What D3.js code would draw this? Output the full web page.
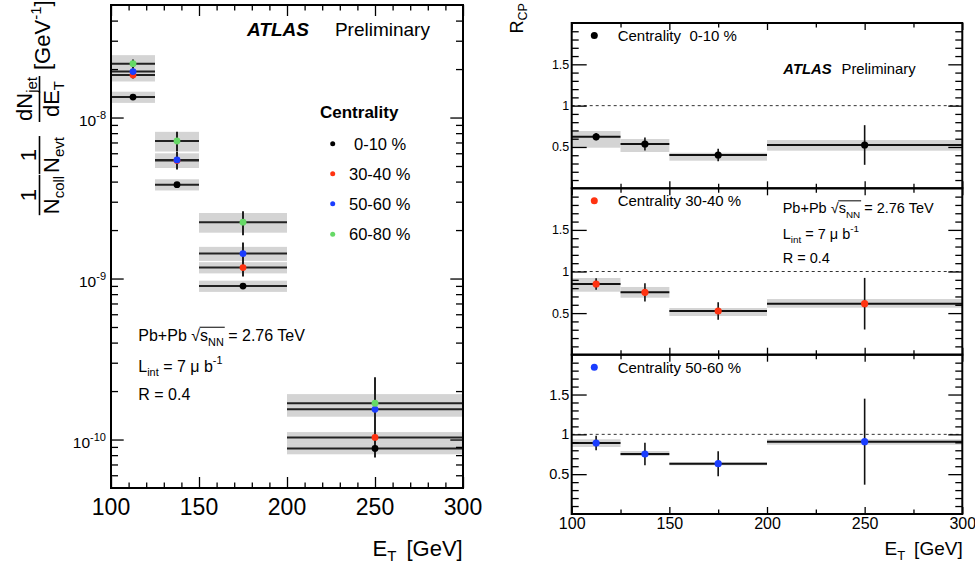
<!DOCTYPE html>
<html>
<head>
<meta charset="utf-8">
<script src="https://cdn.jsdelivr.net/npm/d3@7"></script>
<style>
  body { margin: 0; background: #fff; }
  svg { display: block; font-family: "Liberation Sans", Arial, sans-serif; }
  text { fill: #000; }
</style>
</head>
<body>
<div id="chart"></div>
<script>
//Bins in E_T [GeV]
const binLow = [100, 125, 150, 200];
const binHigh = [125, 150, 200, 300];
const binCenter = [112.5, 137.5, 175, 250];

//Centrality classes
const centralityLabels = ["0-10 %", "30-40 %", "50-60 %", "60-80 %"];
const centralityColors = ["#000000", "#ff3311", "#1a3dff", "#66d966"];

//Left panel: 1/Ncoll 1/Nevt dNjet/dET [GeV^-1]
const yield0010 = [1.34e-8, 3.83e-9, 8.98e-10, 8.8e-11];
const yield3040 = [1.84e-8, 5.40e-9, 1.17e-9, 1.03e-10];
const yield5060 = [1.93e-8, 5.45e-9, 1.43e-9, 1.54e-10];
const yield6080 = [2.16e-8, 7.15e-9, 2.24e-9, 1.68e-10];
//relative statistical errors
const stat0010 = [0.02, 0.03, 0.04, 0.12];
const stat3040 = [0.05, 0.12, 0.12, 0.20];
const stat5060 = [0.05, 0.12, 0.17, 0.40];
const stat6080 = [0.06, 0.14, 0.17, 0.45];
//relative systematic errors (gray boxes)
const sys0010 = [0.08, 0.08, 0.08, 0.08];
const sys3040 = [0.09, 0.10, 0.08, 0.08];
const sys5060 = [0.10, 0.10, 0.10, 0.10];
const sys6080 = [0.13, 0.14, 0.14, 0.14];

//Right panels: RCP
const rcp0010 = [0.624, 0.536, 0.403, 0.524];
const rcpStat0010 = [0.045, 0.08, 0.075, 0.24];
const rcpBoxLow0010 = [0.491, 0.439, 0.334, 0.455];
const rcpBoxHigh0010 = [0.693, 0.596, 0.430, 0.584];

const rcp3040 = [0.85, 0.75, 0.525, 0.613];
const rcpStat3040 = [0.07, 0.11, 0.105, 0.31];
const rcpBoxLow3040 = [0.757, 0.685, 0.465, 0.565];
const rcpBoxHigh3040 = [0.922, 0.814, 0.561, 0.669];

const rcp5060 = [0.891, 0.753, 0.632, 0.908];
const rcpStat5060 = [0.092, 0.14, 0.157, 0.54];
const rcpBoxLow5060 = [0.841, 0.728, 0.611, 0.870];
const rcpBoxHigh5060 = [0.938, 0.791, 0.649, 0.938];

//Tick values
const xMajor = [100, 150, 200, 250, 300];
const yLogMajor = [1e-10, 1e-9, 1e-8];
const yRcpMajor = [0.5, 1, 1.5];

const width = 975;
const height = 568;
const boxGray = "#d4d4d4";
const lineDark = "#222";

const svg = d3.select("#chart")
    .append("svg")
    .attr("width", width)
    .attr("height", height);

svg.append("rect").attr("width", width).attr("height", height).attr("fill", "#fff");

//helper: horizontal run of text pieces (sub/superscripts), measured one by one
function richText(parent, x, y, parts, anchor) {
    const g = parent.append("g");
    let cx = 0;
    const pos = [];
    parts.forEach((p, i) => {
        const t = g.append("text")
            .attr("x", cx)
            .attr("y", p.dy || 0)
            .attr("font-size", p.size)
            .style("white-space", "pre")
            .text(p.t);
        if (p.bold) t.attr("font-weight", "bold");
        if (p.italic) t.attr("font-style", "italic");
        const w = t.node().getComputedTextLength();
        pos.push({x: cx, w: w});
        cx += w + (i < parts.length - 1 ? (p.gap || 0) : 0);
    });
    const off = anchor === "end" ? -cx : anchor === "middle" ? -cx / 2 : 0;
    g.attr("transform", `translate(${x + off},${y})`);
    return {g: g, width: cx, pos: pos};
}

//helper: inward ticks with a d3 axis
function drawTicks(g, axisFn, scale, values, size) {
    g.call(axisFn(scale).tickValues(values).tickSize(size).tickFormat(""))
        .call(a => a.select(".domain").remove());
    g.selectAll("line").attr("stroke", "#000").attr("stroke-width", 1.3);
}

//helper: "Pb+Pb sqrt(sNN) = 2.76 TeV", "L_int = 7 mu b^-1", "R = 0.4"
function runInfo(parent, x, y0, y1, y2, s) {
    const r = richText(parent, x, y0, [
        {t: "Pb+Pb", size: s, gap: s * 0.28},
        {t: "\u221A", size: s},
        {t: "s", size: s},
        {t: "NN", size: s * 0.68, dy: s * 0.3},
        {t: " = 2.76 TeV", size: s}
    ], "start");
    r.g.append("line")
        .attr("x1", r.pos[2].x - 0.5)
        .attr("x2", r.pos[3].x + r.pos[3].w + 1)
        .attr("y1", -s * 0.86).attr("y2", -s * 0.86)
        .attr("stroke", "#000").attr("stroke-width", 1);
    richText(parent, x, y1, [
        {t: "L", size: s},
        {t: "int", size: s * 0.68, dy: s * 0.3},
        {t: " = 7 \u03BC b", size: s},
        {t: "-1", size: s * 0.68, dy: -s * 0.45}
    ], "start");
    richText(parent, x, y2, [{t: "R = 0.4", size: s}], "start");
}

//Chart 1 - spectra (left panel)
const xL = d3.scaleLinear().domain([100, 300]).range([111, 463]);
const yL = d3.scaleLog().domain([5e-11, 5e-8]).range([488, 5]);

const spectra = [
    {v: yield0010, stat: stat0010, sys: sys0010, color: centralityColors[0]},
    {v: yield3040, stat: stat3040, sys: sys3040, color: centralityColors[1]},
    {v: yield5060, stat: stat5060, sys: sys5060, color: centralityColors[2]},
    {v: yield6080, stat: stat6080, sys: sys6080, color: centralityColors[3]}
];

const left = svg.append("g");

//gray boxes first, then lines, then markers
spectra.forEach(s => {
    left.append("g").selectAll("rect")
        .data(binCenter)
        .enter()
        .append("rect")
        .attr("x", (d, i) => xL(binLow[i]))
        .attr("width", (d, i) => xL(binHigh[i]) - xL(binLow[i]))
        .attr("y", (d, i) => yL(s.v[i] * (1 + s.sys[i])))
        .attr("height", (d, i) => yL(s.v[i] * (1 - s.sys[i])) - yL(s.v[i] * (1 + s.sys[i])))
        .attr("fill", boxGray);
});
spectra.forEach(s => {
    const g = left.append("g");
    g.selectAll(".h").data(binCenter).enter().append("line")
        .attr("x1", (d, i) => xL(binLow[i]))
        .attr("x2", (d, i) => xL(binHigh[i]))
        .attr("y1", (d, i) => yL(s.v[i]))
        .attr("y2", (d, i) => yL(s.v[i]))
        .attr("stroke", lineDark).attr("stroke-width", 2);
    g.selectAll(".v").data(binCenter).enter().append("line")
        .attr("x1", d => xL(d)).attr("x2", d => xL(d))
        .attr("y1", (d, i) => yL(s.v[i] * (1 + s.stat[i])))
        .attr("y2", (d, i) => yL(s.v[i] * (1 - s.stat[i])))
        .attr("stroke", lineDark).attr("stroke-width", 2);
});
spectra.forEach(s => {
    left.append("g").selectAll("circle")
        .data(binCenter)
        .enter()
        .append("circle")
        .attr("cx", d => xL(d))
        .attr("cy", (d, i) => yL(s.v[i]))
        .attr("r", 3.4)
        .attr("fill", s.color);
});

//ticks
const xMinorL = d3.range(110, 300, 10).filter(d => d % 50 !== 0);
const yMinorL = [];
[-11, -10, -9, -8].forEach(n => {
    d3.range(2, 10).forEach(m => {
        const v = m * Math.pow(10, n);
        if (v > 5.01e-11 && v < 4.99e-8) yMinorL.push(v);
    });
});
drawTicks(left.append("g").attr("transform", "translate(0,488)"), d3.axisBottom, xL, xMajor, -11);
drawTicks(left.append("g").attr("transform", "translate(0,488)"), d3.axisBottom, xL, xMinorL, -5.5);
drawTicks(left.append("g").attr("transform", "translate(0,5)"), d3.axisTop, xL, xMajor, -11);
drawTicks(left.append("g").attr("transform", "translate(0,5)"), d3.axisTop, xL, xMinorL, -5.5);
drawTicks(left.append("g").attr("transform", "translate(111,0)"), d3.axisLeft, yL, yLogMajor, -12.7);
drawTicks(left.append("g").attr("transform", "translate(111,0)"), d3.axisLeft, yL, yMinorL, -7);
drawTicks(left.append("g").attr("transform", "translate(463,0)"), d3.axisRight, yL, yLogMajor, -12.7);
drawTicks(left.append("g").attr("transform", "translate(463,0)"), d3.axisRight, yL, yMinorL, -7);

left.append("rect")
    .attr("x", 111).attr("y", 5)
    .attr("width", 352).attr("height", 483)
    .attr("fill", "none").attr("stroke", "#000").attr("stroke-width", 2);

//x tick labels
xMajor.forEach(d => {
    left.append("text")
        .attr("x", xL(d)).attr("y", 515)
        .attr("text-anchor", "middle")
        .attr("font-size", 23)
        .text(d);
});
//y tick labels 10^n
yLogMajor.forEach(d => {
    const e = Math.round(Math.log10(d));
    richText(left, 106, yL(d) + 8, [
        {t: "10", size: 15.5},
        {t: String(e), size: 11, dy: -7}
    ], "end");
});

//x title
richText(left, 462.7, 556, [
    {t: "E", size: 22},
    {t: "T", size: 15, dy: 5, gap: 10},
    {t: "[GeV]", size: 22}
], "end");

//y title (rotated), fractions
const yTitle = left.append("g").attr("transform", "translate(0,215) rotate(-90)");
function frac(g, cx, num, den, numY, barY, denY) {
    const a = richText(g, cx, numY, num, "middle");
    const b = richText(g, cx, denY, den, "middle");
    const w = Math.max(a.width, b.width) + 2;
    g.append("line")
        .attr("x1", cx - w / 2).attr("x2", cx + w / 2)
        .attr("y1", barY).attr("y2", barY)
        .attr("stroke", "#000").attr("stroke-width", 1.6);
}
frac(yTitle, 20, [{t: "1", size: 22}],
    [{t: "N", size: 22}, {t: "coll", size: 15, dy: 5}], 36, 39.5, 59);
frac(yTitle, 60, [{t: "1", size: 22}],
    [{t: "N", size: 22}, {t: "evt", size: 15, dy: 5}], 36, 39.5, 59);
frac(yTitle, 116, [{t: "dN", size: 22}, {t: "jet", size: 15, dy: 5}],
    [{t: "dE", size: 22}, {t: "T", size: 15, dy: 5}], 32, 39.5, 59);
richText(yTitle, 145, 50, [
    {t: "[GeV", size: 22},
    {t: "-1", size: 15, dy: -9},
    {t: "]", size: 22}
], "start");

//ATLAS Preliminary
richText(left, 247, 36, [
    {t: "ATLAS", size: 19, bold: true, italic: true, gap: 26},
    {t: "Preliminary", size: 19}
], "start");

//legend
left.append("text")
    .attr("x", 320).attr("y", 118)
    .attr("font-size", 17).attr("font-weight", "bold")
    .text("Centrality");
const legendY = [143.7, 173.7, 203.7, 234.3];
centralityLabels.forEach((lab, i) => {
    left.append("circle")
        .attr("cx", 332.7).attr("cy", legendY[i])
        .attr("r", 2.5).attr("fill", centralityColors[i]);
    left.append("text")
        .attr("x", i === 0 ? 354 : 349).attr("y", legendY[i] + 6)
        .attr("font-size", 16.5)
        .text(lab);
});

runInfo(left, 138.3, 341, 371.5, 400, 16);


//Chart 2 - RCP (right panels)
const xR = d3.scaleLinear().domain([100, 300]).range([571.7, 962.3]);
const padEdges = [[23, 188.3], [188.3, 354.7], [354.7, 514]];

const rcpSeries = [
    {v: rcp0010, stat: rcpStat0010, lo: rcpBoxLow0010, hi: rcpBoxHigh0010,
        color: centralityColors[0], label: "Centrality  " + centralityLabels[0]},
    {v: rcp3040, stat: rcpStat3040, lo: rcpBoxLow3040, hi: rcpBoxHigh3040,
        color: centralityColors[1], label: "Centrality " + centralityLabels[1]},
    {v: rcp5060, stat: rcpStat5060, lo: rcpBoxLow5060, hi: rcpBoxHigh5060,
        color: centralityColors[2], label: "Centrality " + centralityLabels[2]}
];

const xMinorR = [125, 175, 225, 275];
const yMinorR = d3.range(1, 20).map(d => d / 10).filter(d => [0.5, 1, 1.5].indexOf(d) < 0);

rcpSeries.forEach((s, p) => {
    const top = padEdges[p][0];
    const bottom = padEdges[p][1];
    const yR = d3.scaleLinear().domain([0, 2]).range([bottom, top]);
    const pad = svg.append("g");

    //reference line at 1
    pad.append("line")
        .attr("x1", xR(100)).attr("x2", xR(300))
        .attr("y1", yR(1)).attr("y2", yR(1))
        .attr("stroke", "#333").attr("stroke-width", 1)
        .attr("stroke-dasharray", "3,3");

    pad.append("g").selectAll("rect")
        .data(binCenter).enter().append("rect")
        .attr("x", (d, i) => xR(binLow[i]))
        .attr("width", (d, i) => xR(binHigh[i]) - xR(binLow[i]))
        .attr("y", (d, i) => yR(s.hi[i]))
        .attr("height", (d, i) => yR(s.lo[i]) - yR(s.hi[i]))
        .attr("fill", boxGray);

    pad.append("g").selectAll("line")
        .data(binCenter).enter().append("line")
        .attr("x1", (d, i) => xR(binLow[i]))
        .attr("x2", (d, i) => xR(binHigh[i]))
        .attr("y1", (d, i) => yR(s.v[i]))
        .attr("y2", (d, i) => yR(s.v[i]))
        .attr("stroke", "#111").attr("stroke-width", 2);

    pad.append("g").selectAll("line")
        .data(binCenter).enter().append("line")
        .attr("x1", d => xR(d)).attr("x2", d => xR(d))
        .attr("y1", (d, i) => yR(s.v[i] + s.stat[i]))
        .attr("y2", (d, i) => yR(s.v[i] - s.stat[i]))
        .attr("stroke", "#111").attr("stroke-width", 1.6);

    pad.append("g").selectAll("circle")
        .data(binCenter).enter().append("circle")
        .attr("cx", d => xR(d))
        .attr("cy", (d, i) => yR(s.v[i]))
        .attr("r", 3.6)
        .attr("fill", s.color);

    //ticks
    drawTicks(pad.append("g").attr("transform", `translate(0,${bottom})`), d3.axisBottom, xR, xMajor, -7);
    drawTicks(pad.append("g").attr("transform", `translate(0,${bottom})`), d3.axisBottom, xR, xMinorR, -4.5);
    drawTicks(pad.append("g").attr("transform", `translate(0,${top})`), d3.axisTop, xR, xMajor, -7);
    drawTicks(pad.append("g").attr("transform", `translate(0,${top})`), d3.axisTop, xR, xMinorR, -4.5);
    drawTicks(pad.append("g").attr("transform", "translate(571.7,0)"), d3.axisLeft, yR, yRcpMajor, -15);
    drawTicks(pad.append("g").attr("transform", "translate(571.7,0)"), d3.axisLeft, yR, yMinorR, -7);
    drawTicks(pad.append("g").attr("transform", "translate(962.3,0)"), d3.axisRight, yR, yRcpMajor, -14);
    drawTicks(pad.append("g").attr("transform", "translate(962.3,0)"), d3.axisRight, yR, yMinorR, -7);

    pad.append("rect")
        .attr("x", 571.7).attr("y", top)
        .attr("width", 962.3 - 571.7).attr("height", bottom - top)
        .attr("fill", "none").attr("stroke", "#000").attr("stroke-width", 2);

    //y tick labels
    const fs = p === 2 ? 14.5 : 12.5;
    const yLab = pad.append("g")
        .attr("transform", "translate(571.7,0)")
        .call(d3.axisLeft(yR).tickValues(yRcpMajor).tickSize(0).tickPadding(2.4)
            .tickFormat(d3.format("~g")))
        .call(a => a.select(".domain").remove());
    yLab.selectAll("text").attr("font-size", fs)
        .attr("font-family", "Liberation Sans, Arial, sans-serif").attr("fill", "#000");

    //legend
    pad.append("circle")
        .attr("cx", 594.3).attr("cy", top + 12.5)
        .attr("r", 3.5).attr("fill", s.color);
    pad.append("text")
        .attr("x", 617.7).attr("y", top + 17.8)
        .attr("font-size", 15)
        .style("white-space", "pre")
        .text(s.label);

    //x tick labels on the bottom pad
    if (p === 2) {
        const xLab = pad.append("g")
            .attr("transform", `translate(0,${bottom})`)
            .call(d3.axisBottom(xR).tickValues(xMajor).tickSize(0).tickPadding(3.6)
                .tickFormat(d3.format("d")))
            .call(a => a.select(".domain").remove());
        xLab.selectAll("text").attr("font-size", 16)
            .attr("font-family", "Liberation Sans, Arial, sans-serif").attr("fill", "#000");
    }
});

//ATLAS Preliminary (top pad)
richText(svg, 783.3, 73.5, [
    {t: "ATLAS", size: 14.8, bold: true, italic: true, gap: 10},
    {t: "Preliminary", size: 14.8}
], "start");

runInfo(svg, 782.7, 213.3, 239, 262.7, 14.5);

//R_CP title
const rTitle = svg.append("g").attr("transform", "translate(523.3,33.5) rotate(-90)");
richText(rTitle, 0, 0, [
    {t: "R", size: 18},
    {t: "CP", size: 12.5, dy: 4}
], "start");

//x title
richText(svg, 962.7, 555, [
    {t: "E", size: 19},
    {t: "T", size: 13, dy: 4.5, gap: 9},
    {t: "[GeV]", size: 19}
], "end");
</script>
</body>
</html>
